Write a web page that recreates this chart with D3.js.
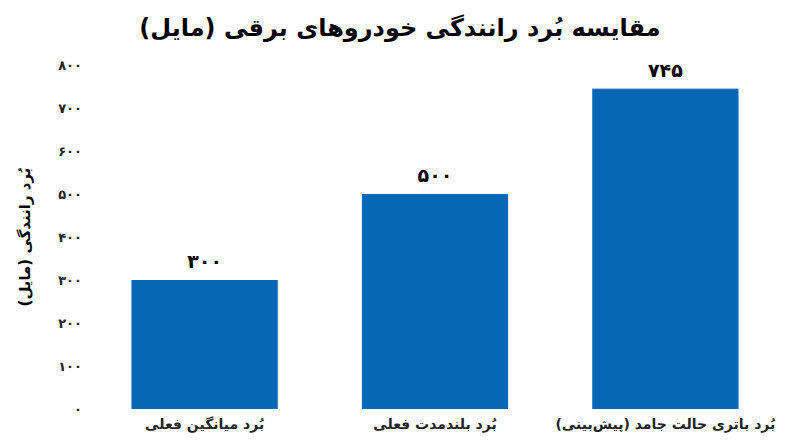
<!DOCTYPE html>
<html><head><meta charset="utf-8">
<script src="https://cdn.jsdelivr.net/npm/d3@7"></script>
<style>
body{margin:0;background:#fff;font-family:"DejaVu Sans",sans-serif;}
</style></head>
<body><div id="chart"></div>
<script>
const categories = ["بُرد میانگین فعلی", "بُرد بلندمدت فعلی", "بُرد باتری حالت جامد (پیش‌بینی)"];
const values = [300, 500, 745];
const yTicks = [0, 100, 200, 300, 400, 500, 600, 700, 800];

const fa = n => String(n).replace(/\d/g, d => "۰۱۲۳۴۵۶۷۸۹"[d]);

const W = 800, H = 447;
const margin = {top: 65, right: 20, bottom: 38, left: 90};
const width = W - margin.left - margin.right;
const height = H - margin.top - margin.bottom;

const svg = d3.select("#chart").append("svg").attr("width", W).attr("height", H);
const g = svg.append("g").attr("transform", `translate(${margin.left},${margin.top})`);

const x = d3.scaleBand().domain(categories).range([0, 690]).paddingInner(0.365).paddingOuter(0.18);
const y = d3.scaleLinear().domain([0, 800]).range([height, 0]);

g.selectAll(".bar").data(values).join("rect")
  .attr("x", (d, i) => x(categories[i]))
  .attr("y", d => y(d))
  .attr("width", x.bandwidth())
  .attr("height", d => y(0) - y(d))
  .attr("fill", "#0767B7");

g.selectAll(".val").data(values).join("text")
  .attr("x", (d, i) => x(categories[i]) + x.bandwidth() / 2)
  .attr("y", d => y(d) - 12)
  .attr("text-anchor", "middle")
  .attr("font-size", 19).attr("font-weight", "bold")
  .text(d => fa(d));

const yAxis = d3.axisLeft(y).tickValues(yTicks).tickFormat(fa).tickSize(0).tickPadding(8);
const yg = g.append("g").call(yAxis);
yg.select(".domain").remove();
yg.selectAll("text").attr("font-size", 13).attr("font-weight", "bold").attr("fill", "#222")
  .attr("font-family", "DejaVu Sans");

const xAxis = d3.axisBottom(x).tickSize(0).tickPadding(10);
const xg = g.append("g").attr("transform", `translate(0,${height})`).call(xAxis);
xg.select(".domain").remove();
xg.selectAll("text").attr("font-size", 14).attr("font-weight", "bold").attr("fill", "#222")
  .attr("font-family", "DejaVu Sans");

svg.append("text")
  .attr("x", W / 2).attr("y", 36)
  .attr("text-anchor", "middle")
  .attr("font-size", 24).attr("font-weight", "bold")
  .text("مقایسه بُرد رانندگی خودروهای برقی (مایل)");

svg.append("text")
  .attr("transform", `translate(30,${margin.top + height / 2}) rotate(-90)`)
  .attr("text-anchor", "middle")
  .attr("font-size", 15).attr("font-weight", "bold")
  .text("بُرد رانندگی (مایل)");
</script></body></html>
